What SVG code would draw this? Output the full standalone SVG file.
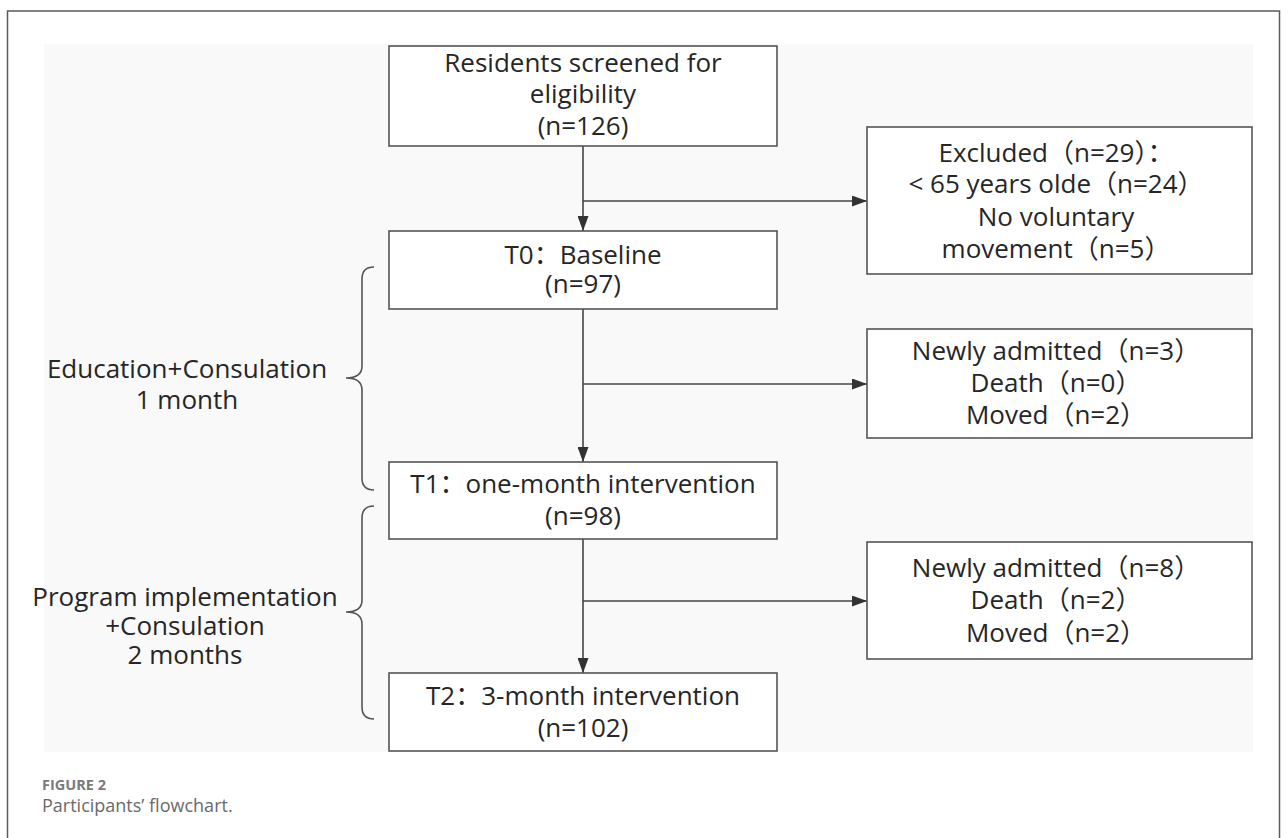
<svg xmlns="http://www.w3.org/2000/svg" width="1288" height="838" viewBox="0 0 1288 838">
<defs>
<marker id="arr" markerUnits="userSpaceOnUse" markerWidth="15" markerHeight="11" refX="15" refY="5.5" orient="auto">
<path d="M0,0 L15,5.5 L0,11 z" fill="#333"/>
</marker>
<style>
.box{fill:#fff;stroke:#555;stroke-width:1.6}
.t{font-family:"Open Sans","Noto Sans CJK SC",sans-serif;font-size:26px;fill:#262626;text-anchor:middle}
.con{stroke:#444;stroke-width:1.6;fill:none}
.brace{stroke:#555;stroke-width:1.6;fill:none}
</style>
</defs>
<rect x="0" y="0" width="1288" height="838" fill="#fff"/>
<rect x="7.5" y="11" width="1272" height="840" fill="none" stroke="#5a5a5a" stroke-width="1.5"/>
<rect x="44" y="44" width="1209" height="708" fill="#f9f9f9"/>

<g id="connectors">
<line class="con" x1="583" y1="146" x2="583" y2="231" marker-end="url(#arr)"/>
<line class="con" x1="583" y1="201" x2="867" y2="201" marker-end="url(#arr)"/>
<line class="con" x1="583" y1="309" x2="583" y2="462" marker-end="url(#arr)"/>
<line class="con" x1="583" y1="384" x2="867" y2="384" marker-end="url(#arr)"/>
<line class="con" x1="583" y1="539" x2="583" y2="673" marker-end="url(#arr)"/>
<line class="con" x1="583" y1="601" x2="867" y2="601" marker-end="url(#arr)"/>
</g>

<g id="brace1">
<path class="brace" d="M374,267 Q362,267 362,279 L362,366 Q362,378 346,378 Q362,378 362,390 L362,478 Q362,490 374,490"/>
<text class="t"><tspan x="187" y="378">Education+Consulation</tspan><tspan x="187" y="409">1 month</tspan></text>
</g>
<g id="brace2">
<path class="brace" d="M374,506 Q362,506 362,518 L362,600 Q362,612 346,612 Q362,612 362,624 L362,707 Q362,719 374,719"/>
<text class="t"><tspan x="185" y="606">Program implementation</tspan><tspan x="185" y="635">+Consulation</tspan><tspan x="185" y="664">2 months</tspan></text>
</g>

<g id="n_screened">
<rect class="box" x="389" y="46" width="388" height="100"/>
<text class="t"><tspan x="583" y="72">Residents screened for</tspan><tspan x="583" y="103">eligibility</tspan><tspan x="583" y="135">(n=126)</tspan></text>
</g>
<g id="n_t0">
<rect class="box" x="389" y="231" width="388" height="78"/>
<text class="t"><tspan x="583" y="264">T0：Baseline</tspan><tspan x="583" y="293">(n=97)</tspan></text>
</g>
<g id="n_t1">
<rect class="box" x="389" y="462" width="388" height="77"/>
<text class="t"><tspan x="583" y="493">T1：one-month intervention</tspan><tspan x="583" y="525">(n=98)</tspan></text>
</g>
<g id="n_t2">
<rect class="box" x="389" y="673" width="388" height="78"/>
<text class="t"><tspan x="583" y="705">T2：3-month intervention</tspan><tspan x="583" y="737">(n=102)</tspan></text>
</g>
<g id="n_excluded">
<rect class="box" x="867" y="127" width="385" height="147"/>
<text class="t"><tspan x="1056" y="162">Excluded（n=29）：</tspan><tspan x="1056" y="193">&lt; 65 years olde（n=24）</tspan><tspan x="1056" y="226">No voluntary</tspan><tspan x="1056" y="258">movement（n=5）</tspan></text>
</g>
<g id="n_loss1">
<rect class="box" x="867" y="329" width="385" height="109"/>
<text class="t"><tspan x="1056" y="360">Newly admitted（n=3）</tspan><tspan x="1056" y="392">Death（n=0）</tspan><tspan x="1056" y="424">Moved（n=2）</tspan></text>
</g>
<g id="n_loss2">
<rect class="box" x="867" y="542" width="385" height="117"/>
<text class="t"><tspan x="1056" y="577">Newly admitted（n=8）</tspan><tspan x="1056" y="609">Death（n=2）</tspan><tspan x="1056" y="642">Moved（n=2）</tspan></text>
</g>

<g id="caption">
<text x="42" y="790" font-family="'Open Sans',sans-serif" font-size="14.5" font-weight="bold" fill="#7a7a7a">FIGURE 2</text>
<text x="42" y="812" font-family="'Open Sans',sans-serif" font-size="18" fill="#6a6a6a">Participants’ flowchart.</text>
</g>
</svg>
